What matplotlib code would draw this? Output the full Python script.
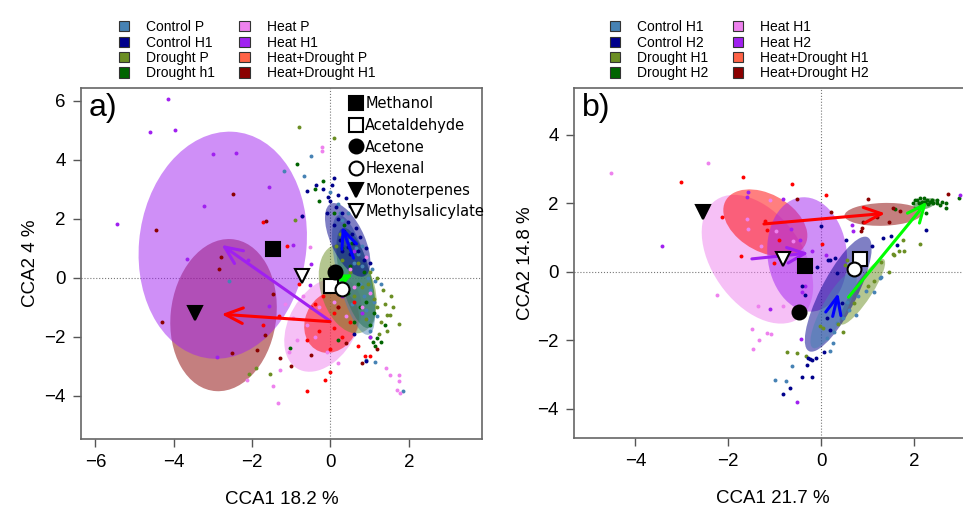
import numpy as np
import matplotlib.pyplot as plt
from matplotlib.patches import Ellipse, Patch
from matplotlib.lines import Line2D

plt.rcParams['font.family'] = ['Liberation Sans', 'DejaVu Sans']

# colours of the treatment groups
c_ctrl1 = '#4682B4'
c_ctrl2 = '#00008B'
c_dr1 = '#6B8E23'
c_dr2 = '#006400'
c_heat1 = '#EE82EE'
c_heat2 = '#A020F0'
c_hd1 = '#FF0000'
c_hd2 = '#8B0000'
legend_cols = [c_ctrl1, c_ctrl2, c_dr1, c_dr2, c_heat1, c_heat2, '#FF6347', c_hd2]

labels_a = ['Control P', 'Control H1', 'Drought P', 'Drought h1',
            'Heat P', 'Heat H1', 'Heat+Drought P', 'Heat+Drought H1']
labels_b = ['Control H1', 'Control H2', 'Drought H1', 'Drought H2',
            'Heat H1', 'Heat H2', 'Heat+Drought H1', 'Heat+Drought H2']

# ---- panel a: sample scores (x, y) ----
a_ctrl_p = [(-0.49, 4.15), (-0.67, 3.47), (-1.18, 3.63), (0.0, 2.9), (0.2, 2.5), (0.3, 1.95),
            (0.5, 1.3), (0.7, 0.8), (0.8, 0.4), (0.95, 0.0), (1.0, -0.4), (1.1, -0.8), (0.9, -1.1),
            (1.2, -1.3), (0.75, -0.2), (0.6, 0.5), (1.05, 0.3), (0.45, 2.2), (0.85, -0.6), (1.0, -1.8),
            (0.91, -2.78), (1.14, -2.86), (1.85, -3.83), (-2.58, -0.12), (0.35, 1.6), (1.3, -0.2),
            (0.65, 1.0), (0.55, -0.9), (0.25, 2.2), (0.8, 1.1), (1.15, -0.1), (0.95, -1.4)]
a_ctrl_h1 = [(-0.6, 2.95), (-0.37, 3.15), (-0.2, 3.0), (0.03, 3.15), (0.1, 3.4), (-0.73, 2.11),
             (0.0, 2.6), (0.15, 2.4), (0.3, 2.2), (0.2, 2.0), (0.45, 1.9), (0.35, 1.6), (0.55, 1.5),
             (0.25, 1.3), (0.6, 1.2), (0.7, 0.9), (0.5, 0.8), (0.85, 0.6), (0.4, 2.7), (0.1, 1.8),
             (0.65, 1.7), (0.9, 1.0), (1.0, 0.5), (0.3, 0.9), (-0.1, 2.2), (0.75, 1.4), (0.45, 1.05),
             (0.2, 2.8), (0.6, -1.9), (0.9, -2.8), (-0.05, 2.75), (0.5, 2.45)]
a_dr_p = [(-0.80, 5.11), (0.09, 4.73), (-0.90, 1.97), (-2.09, -3.27), (-1.90, -3.04), (-1.54, -3.27),
          (1.35, -0.41), (1.44, -1.25), (1.52, -1.25), (1.74, -1.57), (1.2, -1.0), (0.5, 0.2),
          (0.8, -0.3), (1.0, 0.2), (1.1, -0.7), (1.3, -1.5), (1.6, -1.0), (1.45, -1.8), (0.9, -1.4),
          (0.7, 0.5), (1.2, 0.0), (0.3, 0.6), (1.0, -2.0), (0.6, -0.6), (1.55, -0.6), (0.25, 1.5),
          (1.25, -1.9), (1.4, -0.9), (0.95, -0.2), (0.15, 1.1)]
a_dr_h1 = [(-0.85, 3.85), (-0.4, 3.0), (0.1, 2.2), (0.3, 1.0), (0.5, 0.4), (0.7, -0.2), (0.9, -0.8),
           (1.1, -1.2), (1.08, -2.16), (1.30, -2.18), (1.2, -2.05), (-1.03, -2.36), (0.6, -1.5),
           (0.45, -0.5), (0.85, 0.2), (1.0, -1.6), (0.35, 1.8), (0.2, -2.1), (1.4, -1.6), (0.75, -1.0),
           (-0.3, 2.6), (0.55, 1.2), (-0.2, 3.3), (1.15, -2.3)]
a_heat_p = [(-0.22, 4.45), (-0.22, 4.31), (-0.52, 1.04), (-0.95, -1.37), (-0.86, -2.10), (-1.05, -2.5),
            (-1.29, -3.12), (-1.47, -3.68), (-1.35, -4.23), (-2.14, -3.46), (1.42, -3.06), (1.51, -3.29),
            (1.74, -3.29), (1.74, -3.51), (1.78, -3.91), (1.7, -3.8), (-0.3, -1.0), (-0.6, -1.6),
            (0.1, -0.8), (0.4, -1.3), (0.6, -0.3), (0.8, -1.0), (-0.1, -2.5), (0.2, -2.9), (-0.4, -2.0),
            (1.0, -0.5), (-0.7, -0.6), (0.5, 0.3), (0.9, 0.7), (-1.15, -0.9)]
a_heat_h1 = [(-4.15, 6.06), (-4.61, 4.96), (-3.96, 5.02), (-5.44, 1.84), (-3.01, 4.20), (-2.41, 4.25),
             (-1.58, 3.10), (-3.22, 2.43), (-3.67, 0.63), (-0.73, 2.11), (-2.11, 0.62), (-0.49, 0.46),
             (-1.56, -0.96), (-2.90, -2.69), (-0.95, 1.12), (-0.52, -0.24), (0.3, -0.6), (0.8, -1.2),
             (0.6, 0.9), (1.0, -2.0)]
a_hd_p = [(-1.73, 1.89), (-1.10, 1.07), (-1.31, -1.28), (-1.73, -1.59), (-0.60, -3.83), (-0.15, -3.45),
          (-0.01, -3.18), (0.88, -2.63), (1.0, -2.63), (-0.5, -1.0), (-0.3, -1.8), (0.1, -1.2),
          (0.3, -2.0), (0.5, -1.5), (0.6, -0.8), (-0.2, -0.6), (0.0, -2.4), (0.4, -0.4), (0.2, -1.0),
          (-0.6, -2.1), (0.7, -2.3), (0.1, -1.7), (-0.4, -0.9), (0.0, 0.3), (-0.8, -0.2)]
a_hd_h1 = [(-2.48, 2.84), (-4.45, 1.62), (-2.79, 0.71), (-2.84, 0.31), (-4.29, -1.51), (-1.65, 1.93),
           (-1.46, -0.54), (-1.67, -1.93), (-1.88, -2.44), (-2.51, -2.54), (-1.29, -2.72), (0.2, -1.0),
           (0.4, -2.2), (0.8, -2.9), (1.2, -2.4), (-0.5, -2.6), (-1.0, -3.0)]

# ellipses: centre x, centre y, half width, half height, correlation
ell_a = {
    'Heat+Drought H1': (-2.73, -1.26, 1.36, 2.58, 0.1),
    'Heat H1': (-2.75, 1.11, 2.15, 3.85, 0.08),
    'Heat P': (-0.19, -1.58, 0.99, 1.6, 0.35),
    'Heat+Drought P': (0.03, -1.49, 0.70, 1.05, 0.15),
    'Drought P': (0.44, -0.37, 0.74, 1.51, -0.3),
    'Drought h1': (0.65, 0.0, 0.5, 1.7, -0.6),
    'Control P': (0.59, 0.1, 0.55, 2.03, -0.65),
    'Control H1': (0.44, 1.29, 0.58, 1.25, -0.6),
}

# arrows: start, end
arr_a = [((-0.01, -1.46), (-2.78, 1.12), '#A020F0'),
         ((-0.01, -1.48), (-2.78, -1.23), '#FF0000'),
         ((0.59, 0.67), (0.29, 1.74), '#0000FF'),
         ((0.25, -0.07), (0.57, 0.12), '#00FF00')]

# volatile scores
voc_names = ['Methanol', 'Acetaldehyde', 'Acetone', 'Hexenal', 'Monoterpenes', 'Methylsalicylate']
voc_marks = ['s', 's', 'o', 'o', 'v', 'v']
voc_fill = ['black', 'white', 'black', 'white', 'black', 'white']
voc_a = [(-1.46, 0.98), (0.01, -0.26), (0.12, 0.21), (0.29, -0.38), (-3.46, -1.20), (-0.73, 0.05)]
voc_b = [(-0.34, 0.18), (0.83, 0.38), (-0.48, -1.16), (0.71, 0.08), (-2.55, 1.76), (-0.83, 0.38)]

# ---- panel b ----
b_ctrl_h1 = [(-0.99, -3.15), (-0.75, -3.20), (-0.62, -2.76), (0.75, -1.26), (0.97, -0.55),
             (1.13, -0.60), (1.27, -0.17), (1.29, -0.14), (0.25, -2.08), (0.27, -1.75), (0.55, -0.87),
             (0.12, -1.94), (0.48, -1.35), (0.35, -1.5), (0.6, -1.1), (0.2, -2.3), (0.8, -0.7)]
b_ctrl_h2 = [(0.0, 1.35), (0.53, 0.92), (0.19, 0.35), (0.34, -0.04), (-0.09, 0.14), (-0.40, -0.41),
             (-0.34, -0.67), (1.34, 0.98), (1.63, 0.79), (2.26, 1.22), (1.5, 1.05), (1.09, 0.77),
             (0.62, 0.01), (-0.29, -2.52), (-0.24, -2.55), (-0.11, -2.52), (-0.20, -2.57), (-0.31, -2.72),
             (-0.40, -3.07), (-0.19, -3.06), (-0.67, -3.40), (-0.81, -3.57), (0.07, -2.33), (0.2, -1.7),
             (0.16, 0.34), (0.12, -1.35), (0.45, -0.9), (0.75, 0.45), (0.85, 0.2), (0.3, 0.4)]
b_dr_h1 = [(-0.74, -2.33), (-0.51, -2.36), (-0.33, -2.47), (-0.02, -1.57), (0.05, -1.65), (0.47, -1.76),
           (0.37, -1.53), (1.14, -0.28), (1.47, -0.01), (1.54, 0.52), (1.77, 0.93), (1.78, 0.62),
           (1.68, 0.62), (1.57, 0.5), (2.13, 0.81), (0.55, 0.35), (0.52, 0.2), (0.84, 0.17),
           (1.0, -0.4), (0.7, -0.9), (1.3, 0.3)]
b_dr_h2 = [(1.99, 2.02), (2.06, 2.10), (2.13, 2.15), (2.22, 2.17), (2.28, 2.10), (2.35, 2.05),
           (2.42, 2.00), (2.49, 2.00), (2.56, 1.96), (2.69, 2.00), (2.70, 1.86), (2.21, 2.02),
           (2.10, 2.02), (2.03, 2.10), (2.17, 2.04), (2.24, 2.05), (2.31, 1.97), (2.38, 2.10),
           (2.98, 2.15), (1.59, 1.84), (2.26, 1.71), (2.5, 2.1), (2.6, 2.05), (2.15, 1.95)]
b_heat_h1 = [(-4.53, 2.89), (-2.44, 3.17), (-2.25, -0.67), (-1.49, -1.67), (-1.34, -2.0), (-1.47, -2.24),
             (-1.17, -1.77), (-1.08, -1.80), (-1.36, -1.01), (-0.83, -1.01), (-1.57, 1.26), (-1.29, 0.76),
             (-1.11, 2.10), (-0.96, 1.18), (-1.6, 1.55), (-0.6, 0.9)]
b_heat_h2 = [(-3.42, 0.77), (-1.57, 2.32), (-0.81, 2.12), (-0.45, 0.93), (0.66, 1.37), (0.68, 1.18),
             (-0.52, -3.81), (-0.43, -1.96), (-1.10, -1.08), (3.0, 2.25), (-0.65, 1.25), (-0.2, 0.6),
             (0.1, 0.5), (-0.35, -0.4), (-0.4, -0.6), (-1.6, 2.2)]
b_hd_h1 = [(-1.69, 2.77), (-3.02, 2.63), (-0.62, 2.56), (-2.13, 1.60), (-1.72, 0.45), (-1.17, 1.22),
           (-0.90, 0.92), (-1.01, 0.27), (0.01, 0.81), (0.10, 2.26), (-1.2, 1.5)]
b_hd_h2 = [(-0.52, 2.12), (0.21, 1.76), (0.88, 1.27), (0.86, 1.2), (1.0, 2.14), (1.54, 1.86),
           (1.70, 1.78), (1.47, 1.45), (2.74, 2.28), (0.90, 1.47), (1.2, 1.6)]

ell_b = {
    'Heat H1': (-1.37, 0.37, 1.2, 1.88, -0.42),
    'Heat+Drought H1': (-1.2, 1.43, 0.905, 0.98, -0.38),
    'Heat H2': (-0.3, 0.51, 0.86, 1.67, -0.08),
    'Heat+Drought H2': (1.34, 1.68, 0.835, 0.335, 0.1),
    'Drought H1': (0.89, -0.58, 0.49, 0.96, 0.88),
    'Drought H2': (2.24, 1.98, 0.25, 0.17, 0.5),
    'Control H2': (0.37, -0.65, 0.72, 1.68, 0.8),
    'Control H1': (0.27, -1.11, 0.5, 1.12, 0.82),
}

arr_b = [((-1.23, 1.40), (1.38, 1.71), '#FF0000'),
         ((-1.49, 0.38), (-0.27, 0.55), '#A020F0'),
         ((0.25, -1.30), (0.37, -0.62), '#0000FF'),
         ((0.59, -0.74), (2.28, 2.05), '#00FF00')]


def draw_ellipse(ax, par, color, alpha=0.5):
    cx, cy, hx, hy, r = par
    cov = np.array([[hx**2, r*hx*hy], [r*hx*hy, hy**2]])
    vals, vecs = np.linalg.eigh(cov)
    ang = np.degrees(np.arctan2(vecs[1, 1], vecs[0, 1]))
    e = Ellipse((cx, cy), 2*np.sqrt(vals[1]), 2*np.sqrt(vals[0]), angle=ang,
                facecolor=color, edgecolor='none', alpha=alpha, zorder=2)
    ax.add_patch(e)


def setup_axes(ax, xlim, ylim, xt, yt, xlab, ylab, tag, ypad):
    ax.set_xlim(*xlim)
    ax.set_ylim(*ylim)
    ax.set_xticks(xt)
    ax.set_yticks(yt)
    ax.set_xticklabels([str(v).replace('-', '\u2212') for v in xt])
    ax.set_yticklabels([str(v).replace('-', '\u2212') for v in yt])
    ax.tick_params(direction='out', length=6, width=1, color='#555555',
                   labelsize=13.5, pad=5)
    for s in ax.spines.values():
        s.set_color('#666666')
        s.set_linewidth(1.2)
    ax.axhline(0, color='#777777', ls=':', lw=0.8, zorder=1)
    ax.axvline(0, color='#777777', ls=':', lw=0.8, zorder=1)
    ax.set_xlabel(xlab, fontsize=13.5, labelpad=14)
    ax.set_ylabel(ylab, fontsize=13.5, labelpad=ypad)
    ax.text(0.02, 0.985, tag, transform=ax.transAxes, fontsize=23, va='top', ha='left')


def draw_panel(ax, groups, ells, arrows, vocs):
    for name, par, col in ells:
        draw_ellipse(ax, par, col)
    for pts, col in groups:
        pts = np.array(pts)
        ax.scatter(pts[:, 0], pts[:, 1], s=8, color=col, linewidths=0, zorder=3)
    for start, end, col in arrows:
        ax.annotate('', xy=end, xytext=start, zorder=5,
                    arrowprops=dict(arrowstyle='->,head_length=0.9,head_width=0.4',
                                    color=col, lw=2.2, shrinkA=0, shrinkB=0,
                                    mutation_scale=14))
    for (x, y), m, fc in zip(vocs, voc_marks, voc_fill):
        ax.plot(x, y, marker=m, ms=10, mfc=fc, mec='black', mew=1.5, ls='none', zorder=6)


fig = plt.figure(figsize=(9.63, 5.08), dpi=100)
ax_a = fig.add_axes([81/963, 1 - 439/508, 401/963, 351/508])
ax_b = fig.add_axes([574/963, 1 - 438/508, 398/963, 350/508])

draw_panel(ax_a,
           [(a_ctrl_p, c_ctrl1), (a_dr_p, c_dr1), (a_dr_h1, c_dr2), (a_heat_p, c_heat1),
            (a_hd_p, c_hd1), (a_hd_h1, c_hd2), (a_heat_h1, c_heat2), (a_ctrl_h1, c_ctrl2)],
           [('Heat+Drought H1', ell_a['Heat+Drought H1'], c_hd2),
            ('Heat H1', ell_a['Heat H1'], c_heat2),
            ('Heat P', ell_a['Heat P'], c_heat1),
            ('Heat+Drought P', ell_a['Heat+Drought P'], c_hd1),
            ('Drought P', ell_a['Drought P'], c_dr1),
            ('Drought h1', ell_a['Drought h1'], c_dr2),
            ('Control P', ell_a['Control P'], c_ctrl1),
            ('Control H1', ell_a['Control H1'], c_ctrl2)],
           arr_a, voc_a)
setup_axes(ax_a, (-6.37, 3.87), (-5.46, 6.44), [-6, -4, -2, 0, 2], [-4, -2, 0, 2, 4, 6],
           'CCA1 18.2 %', 'CCA2 4 %', 'a)', 4)

draw_panel(ax_b,
           [(b_ctrl_h1, c_ctrl1), (b_dr_h1, c_dr1), (b_dr_h2, c_dr2), (b_heat_h1, c_heat1),
            (b_hd_h1, c_hd1), (b_hd_h2, c_hd2), (b_heat_h2, c_heat2), (b_ctrl_h2, c_ctrl2)],
           [('Heat H1', ell_b['Heat H1'], c_heat1),
            ('Heat+Drought H1', ell_b['Heat+Drought H1'], c_hd1),
            ('Heat H2', ell_b['Heat H2'], c_heat2),
            ('Heat+Drought H2', ell_b['Heat+Drought H2'], c_hd2),
            ('Drought H1', ell_b['Drought H1'], c_dr1),
            ('Drought H2', ell_b['Drought H2'], c_dr2),
            ('Control H2', ell_b['Control H2'], c_ctrl2),
            ('Control H1', ell_b['Control H1'], c_ctrl1)],
           arr_b, voc_b)
setup_axes(ax_b, (-5.32, 3.25), (-4.85, 5.37), [-4, -2, 0, 2], [-4, -2, 0, 2, 4],
           'CCA1 21.7 %', 'CCA2 14.8 %', 'b)', 2)

# volatile legend inside panel a
voc_handles = [Line2D([], [], marker=m, ms=10, mfc=fc, mec='black', mew=1.5, ls='none')
               for m, fc in zip(voc_marks, voc_fill)]
ax_a.legend(voc_handles, voc_names, loc='upper left', bbox_to_anchor=(0.645, 1.005),
            frameon=False, prop={'family': 'DejaVu Sans', 'size': 10.5},
            handlelength=0.8, handletextpad=0.25, labelspacing=0.45, borderaxespad=0.3)

# treatment legends above the panels
for labels, x0 in [(labels_a, 106/963), (labels_b, 597/963)]:
    handles = [Patch(facecolor=c, edgecolor='#333333', lw=0.8) for c in legend_cols]
    fig.legend(handles, labels, loc='upper left', bbox_to_anchor=(x0, 0.985), ncol=2,
               frameon=False, fontsize=10, handlelength=0.75, handleheight=0.75,
               handletextpad=1.2, columnspacing=1.8, labelspacing=0.1)

fig.savefig('out.png', dpi=100)
